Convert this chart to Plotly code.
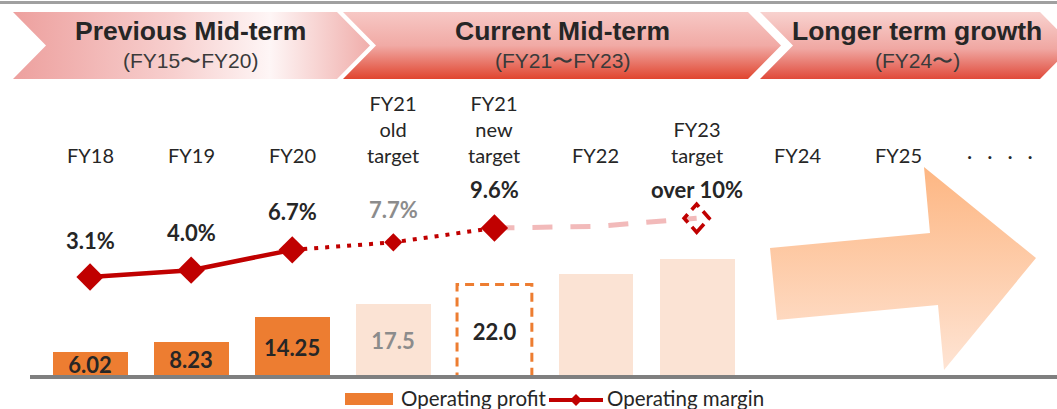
import plotly.graph_objects as go

# ---------------- data ----------------
categories = ["FY18", "FY19", "FY20", "FY21 old target", "FY21 new target",
              "FY22", "FY23 target", "FY24", "FY25", "more"]
tick_labels = ["FY18", "FY19", "FY20", "FY21<br>old<br>target", "FY21<br>new<br>target",
               "FY22", "FY23<br>target", "FY24", "FY25", "·\u2003·\u2003·\u2003·"]
operating_profit = [6.02, 8.23, 14.25, 17.5, 22.0, 24.5, 28.0, None, None, None]
profit_labels = ["6.02", "8.23", "14.25", "17.5", "22.0", "", "", "", "", ""]
margin_actual = [3.1, 4.0, 6.7, None, None, None, None, None, None, None]
margin_plan = [None, None, 6.7, 7.7, 9.6, None, None, None, None, None]
margin_outlook = [None, None, None, None, 9.6, 9.8, 10.9, None, None, None]
margin_labels = ["3.1%", "4.0%", "6.7%", "7.7%", "9.6%", "", "over 10%", "", "", ""]
phases = ["Previous Mid-term", "Current Mid-term", "Longer term growth"]
phase_periods = ["(FY15〜FY20)", "(FY21〜FY23)", "(FY24〜)"]
legend_names = ["Operating profit", "Operating margin"]

# ---------------- styling ----------------
W, H = 1057, 409
ORANGE = "#ed7d31"
LIGHT = "#fbe3d4"
RED = "#c00000"
DARK = "#262626"
GREY = "#8c8c8c"
CAL = "Lato, Carlito, Calibri, sans-serif"
ARIAL = "Liberation Sans, Arial, sans-serif"

def py(p):
    return 1 - p / H

X_LEFT, X_RIGHT = 39.5, 1050.5
Y_BOT, Y_TOP = 377, 90
PX_PER_PROFIT = 4.2
PX_PER_PCT = 7.54
ref_pct, ref_px = 3.1, 277
y2_lo = ref_pct - (Y_BOT - ref_px) / PX_PER_PCT
y2_hi = ref_pct + (ref_px - Y_TOP) / PX_PER_PCT

fig = go.Figure()

# ---- decorations (pixel overlay axes) ----
chevrons = [
    ([13, 337, 370, 337, 13, 46, 13], [12, 12, 45.5, 79, 79, 45.5, 12],
     dict(type="horizontal", start=13, stop=370,
          colorscale=[[0, "#eda09e"], [0.45, "#f7cfce"], [0.72, "#fef6f6"], [1, "#f0aeab"]])),
    ([343, 748, 781, 748, 343, 376, 343], [12, 12, 45.5, 79, 79, 45.5, 12],
     dict(type="vertical", start=12, stop=79,
          colorscale=[[0, "#f7c8c5"], [0.5, "#f1aaa5"], [1, "#e0452f"]])),
    ([760, 1040, 1073, 1040, 760, 793, 760], [12, 12, 45.5, 79, 79, 45.5, 12],
     dict(type="vertical", start=12, stop=79,
          colorscale=[[0, "#f8d2cf"], [0.55, "#f0a7a2"], [1, "#e04a3a"]])),
]
for xs, ys, grad in chevrons:
    fig.add_trace(go.Scatter(x=xs, y=ys, xaxis="x3", yaxis="y3", mode="lines",
                             fill="toself", line=dict(width=0), fillgradient=grad,
                             hoverinfo="skip", showlegend=False))

arrow_x = [770, 930, 924, 1036, 944, 938, 777, 770]
arrow_y = [248, 233, 167, 258, 370, 305, 320, 248]
fig.add_trace(go.Scatter(x=arrow_x, y=arrow_y, xaxis="x3", yaxis="y3", mode="lines",
                         fill="toself", line=dict(width=0),
                         fillgradient=dict(type="vertical", start=167, stop=370,
                                           colorscale=[[0, "#fdb682"], [1, "#fee4d4"]]),
                         hoverinfo="skip", showlegend=False))

# ---- bars ----
bar_colors = [ORANGE, ORANGE, ORANGE, LIGHT, "#ffffff", LIGHT, LIGHT, LIGHT, LIGHT, LIGHT]
text_colors = [DARK, DARK, DARK, GREY, DARK, DARK, DARK, DARK, DARK, DARK]
BAR_W = 0.74
fig.add_trace(go.Bar(
    x=categories, y=operating_profit, width=BAR_W,
    marker=dict(color=bar_colors, line=dict(width=0)),
    text=profit_labels, textposition="inside", insidetextanchor="middle",
    constraintext="none", textangle=0,
    textfont=dict(family=CAL, size=22, color=text_colors, weight="bold"),
    hoverinfo="skip", showlegend=False))

# ---- margin lines ----
fig.add_trace(go.Scatter(
    x=categories, y=margin_outlook, yaxis="y2", mode="lines",
    line=dict(color="rgba(232,130,130,0.55)", width=5, dash="20px,18px"),
    hoverinfo="skip", showlegend=False))
fig.add_trace(go.Scatter(
    x=categories, y=margin_plan, yaxis="y2", mode="lines",
    line=dict(color=RED, width=4, dash="4px,7px"),
    hoverinfo="skip", showlegend=False))
fig.add_trace(go.Scatter(
    x=categories, y=margin_actual, yaxis="y2", mode="lines",
    line=dict(color=RED, width=4.5),
    hoverinfo="skip", showlegend=False))
margin_points = [a if a is not None else b
                 for a, b in zip(margin_actual, margin_plan)]
marker_sizes = [21, 21, 21, 14, 21, 0, 0, 0, 0, 0]
fig.add_trace(go.Scatter(
    x=categories, y=margin_points, yaxis="y2", mode="markers",
    marker=dict(symbol="diamond", size=marker_sizes, color=RED, opacity=1,
                line=dict(width=0)),
    hoverinfo="skip", showlegend=False))

shapes = []
annotations = []

# hollow dashed target diamond
t_idx = categories.index("FY23 target")
shapes.append(dict(type="path", xref="x", yref="y2", xsizemode="pixel", ysizemode="pixel",
                   xanchor=t_idx, yanchor=margin_outlook[t_idx],
                   path="M0,-14 L12.5,0 L0,14 L-12.5,0 Z",
                   line=dict(color=RED, width=3.6, dash="11px,6px"), fillcolor="rgba(0,0,0,0)"))

# dashed box for new target bar
n_idx = categories.index("FY21 new target")
shapes.append(dict(type="rect", xref="x", yref="y", x0=n_idx - BAR_W / 2, x1=n_idx + BAR_W / 2,
                   y0=0, y1=operating_profit[n_idx],
                   line=dict(color=ORANGE, width=3, dash="9px,6px")))

# baseline + top rule
shapes.append(dict(type="line", xref="paper", yref="paper", x0=30 / W, x1=1, y0=py(377), y1=py(377),
                   line=dict(color="#7f7f7f", width=4), layer="above"))
shapes.append(dict(type="line", xref="paper", yref="paper", x0=0, x1=1, y0=py(2.5), y1=py(2.5),
                   line=dict(color="#a0a0a0", width=3)))

# category labels
for cat, lab in zip(categories, tick_labels):
    annotations.append(dict(x=cat, xref="x", y=py(169), yref="paper", yanchor="bottom",
                            text=lab, showarrow=False, align="center",
                            font=dict(family=CAL, size=20, color=DARK)))

# margin value labels
label_shift = [37, 38, 38, 33, 38, 0, 29, 0, 0, 0]
margin_for_label = [a if a is not None else b if b is not None else c
                    for a, b, c in zip(margin_actual, margin_plan, margin_outlook)]
for i, (cat, lab) in enumerate(zip(categories, margin_labels)):
    if not lab:
        continue
    annotations.append(dict(x=cat, xref="x", y=margin_for_label[i], yref="y2", yshift=label_shift[i],
                            text=f"<b>{lab}</b>", showarrow=False,
                            font=dict(family=CAL, size=22, color=GREY if cat == "FY21 old target" else DARK)))

# phase headers
phase_cx = [190, 562, 917]
for cx, t, s in zip(phase_cx, phases, phase_periods):
    annotations.append(dict(x=cx, y=31, xref="x3", yref="y3", text=f"<b>{t}</b>", showarrow=False,
                            font=dict(family=ARIAL, size=26.5, color=DARK)))
    annotations.append(dict(x=cx, y=60, xref="x3", yref="y3", text=s, showarrow=False,
                            font=dict(family=ARIAL, size=21, color="#3a3a3a")))

# custom legend
shapes.append(dict(type="rect", xref="x3", yref="y3", x0=345, x1=393, y0=393, y1=405,
                   fillcolor=ORANGE, line=dict(width=0)))
annotations.append(dict(x=399, y=398, xref="x3", yref="y3", xanchor="left", text=legend_names[0],
                        showarrow=False, font=dict(family=CAL, size=20.5, color=DARK)))
shapes.append(dict(type="line", xref="x3", yref="y3", x0=549, x1=603, y0=400, y1=400,
                   line=dict(color=RED, width=4)))
shapes.append(dict(type="path", xref="x3", yref="y3",
                   path="M576,394 L582,400 L576,406 L570,400 Z", fillcolor=RED, line=dict(width=0)))
annotations.append(dict(x=605, y=398, xref="x3", yref="y3", xanchor="left", text=legend_names[1],
                        showarrow=False, font=dict(family=CAL, size=20.5, color=DARK)))

fig.update_layout(
    width=W, height=H, margin=dict(l=0, r=0, t=0, b=0),
    paper_bgcolor="white", plot_bgcolor="rgba(0,0,0,0)",
    bargap=0, showlegend=False,
    xaxis=dict(domain=[X_LEFT / W, X_RIGHT / W], range=[-0.5, len(categories) - 0.5],
               type="category", categoryorder="array", categoryarray=categories,
               visible=False, fixedrange=True),
    yaxis=dict(domain=[py(Y_BOT), py(Y_TOP)], range=[0, (Y_BOT - Y_TOP) / PX_PER_PROFIT],
               visible=False, fixedrange=True),
    yaxis2=dict(overlaying="y", range=[y2_lo, y2_hi], visible=False, fixedrange=True),
    xaxis3=dict(domain=[0, 1], range=[0, W], visible=False, anchor="y3", fixedrange=True),
    yaxis3=dict(domain=[0, 1], range=[H, 0], visible=False, anchor="x3", fixedrange=True),
    shapes=shapes, annotations=annotations,
)

fig.write_html("out.html", config={"displayModeBar": False},
               post_script="document.body.style.margin='0';document.body.style.overflow='hidden';")
